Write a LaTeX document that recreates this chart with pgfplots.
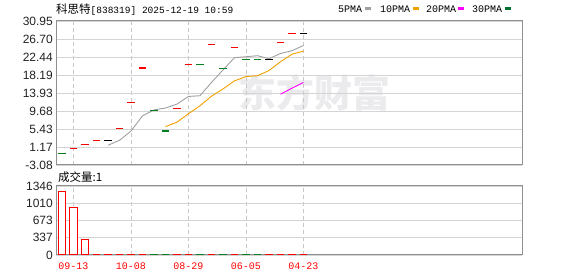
\documentclass[border=0pt]{standalone}
\usepackage{pgfplots}
\pgfplotsset{compat=1.18}
\usepackage{fontspec}
\setmainfont{Liberation Sans}
\newfontfamily\cjk{Noto Sans CJK SC}
\newfontfamily\mono{Liberation Mono}
\definecolor{framec}{HTML}{909090}
\definecolor{gridc}{HTML}{D4D4D4}
\definecolor{vgrid}{HTML}{C8C8C8}
\definecolor{upred}{HTML}{FF0000}
\definecolor{dngreen}{HTML}{00801E}
\definecolor{ma5}{HTML}{A0A0A0}
\definecolor{ma10}{HTML}{F0A000}
\definecolor{ma20}{HTML}{FF00FF}
\definecolor{ma30}{HTML}{007030}
\definecolor{wm}{HTML}{EBEBEE}
\definecolor{lab}{HTML}{222222}
\begin{document}
\begin{tikzpicture}
\useasboundingbox (0bp,0bp) rectangle (578bp,276bp);
% watermark
\node[text=wm, font=\cjk\bfseries\fontsize{38bp}{38bp}\selectfont, inner sep=0pt] at (314bp,183bp) {东方财富};
% title
\node[anchor=west, inner sep=0pt, text=black] at (56bp,266.5bp) {{\cjk\fontsize{11.5bp}{12bp}\selectfont 科思特}{\mono\fontsize{9.5bp}{12bp}\selectfont [838319] 2025-12-19 10:59}};
% legend
\node[anchor=west, inner sep=0pt, font=\mono\fontsize{10bp}{12bp}\selectfont] at (338bp,267bp) {5PMA};
\fill[ma5] (365bp,266bp) rectangle (371bp,269bp);
\node[anchor=west, inner sep=0pt, font=\mono\fontsize{10bp}{12bp}\selectfont] at (380bp,267bp) {10PMA};
\fill[ma10] (413bp,266bp) rectangle (419bp,269bp);
\node[anchor=west, inner sep=0pt, font=\mono\fontsize{10bp}{12bp}\selectfont] at (426bp,267bp) {20PMA};
\fill[ma20] (458bp,266bp) rectangle (464bp,269bp);
\node[anchor=west, inner sep=0pt, font=\mono\fontsize{10bp}{12bp}\selectfont] at (472bp,267bp) {30PMA};
\fill[ma30] (505bp,266bp) rectangle (511bp,269bp);
% volume title
\node[anchor=west, inner sep=0pt, font=\cjk\fontsize{11.5bp}{12bp}\selectfont] at (58bp,99bp) {成交量:1};

\begin{axis}[at={(56bp,111bp)}, anchor=south west, scale only axis,
  width=466bp, height=144bp,
  xmin=0.48, xmax=41, ymin=-3.08, ymax=30.95,
  axis line style={framec, line width=1bp},
  xtick={2,7,12,17,22}, xticklabels={},
  xmajorgrids, x grid style={vgrid, dash pattern=on 4bp off 3bp, line width=0.8bp},
  ytick={-3.08,1.17,5.43,9.68,13.93,18.19,22.44,26.70,30.95},
  yticklabels={\mbox{-3.08},\mbox{1.17},\mbox{5.43},\mbox{9.68},\mbox{13.93},\mbox{18.19},\mbox{22.44},\mbox{26.70},\mbox{30.95}},
  ymajorgrids, y grid style={gridc, line width=0.8bp},
  major tick length=0pt,
  yticklabel style={font=\fontsize{12bp}{12bp}\selectfont, text=lab, inner sep=0pt, xshift=-3bp},
]
\addplot[only marks, mark=-, mark size=3.7bp, upred, mark options={line width=1.2bp}] coordinates {(2,0.87)(3,1.81)(4,2.76)(6,5.59)(7,11.74)(8,19.84)(11,10.32)(12,20.72)(14,25.44)(16,24.74)(20,25.92)(21,28.04)};
\addplot[only marks, mark=-, mark size=3.7bp, dngreen, mark options={line width=1.2bp}] coordinates {(1,-0.31)(9,9.75)(10,4.96)(13,20.72)(15,19.77)(17,21.9)(18,21.9)};
\addplot[only marks, mark=-, mark size=3.7bp, black, mark options={line width=1.2bp}] coordinates {(5,2.76)(19,21.9)(22,28.04)};
\addplot[ma5, line width=0.9bp, no marks] coordinates {(5,1.58)(6,2.76)(7,4.93)(8,8.54)(9,9.94)(10,10.38)(11,11.32)(12,13.12)(13,13.29)(14,16.43)(15,19.39)(16,22.28)(17,22.51)(18,22.75)(19,22.04)(20,23.27)(21,23.93)(22,25.16)};
\addplot[ma10, line width=0.9bp, no marks] coordinates {(10,5.98)(11,7.04)(12,9.03)(13,10.92)(14,13.18)(15,14.89)(16,16.80)(17,17.82)(18,18.02)(19,19.24)(20,21.33)(21,23.11)(22,23.84)};
\addplot[ma20, line width=0.9bp, no marks] coordinates {(20,13.66)(21,15.07)(22,16.43)};
\end{axis}

\begin{axis}[at={(56bp,21bp)}, anchor=south west, scale only axis,
  width=466bp, height=69bp,
  xmin=0.48, xmax=41, ymin=0, ymax=1346,
  axis line style={framec, line width=1bp},
  xtick={2,7,12,17,22}, xticklabels={09-13,10-08,08-29,06-05,04-23},
  xticklabel style={font=\mono\fontsize{10bp}{12bp}\selectfont, text=upred, anchor=center, inner sep=0pt, yshift=-11bp},
  xmajorgrids, x grid style={vgrid, dash pattern=on 4bp off 3bp, line width=0.8bp},
  ytick={0,337,673,1010,1346},
  yticklabels={\mbox{0},\mbox{337},\mbox{673},\mbox{1010},\mbox{1346}},
  ymajorgrids, y grid style={gridc, line width=0.8bp},
  major tick length=0pt,
  yticklabel style={font=\fontsize{12bp}{12bp}\selectfont, text=lab, inner sep=0pt, xshift=-3bp},
]
\addplot[ybar, bar width=7.3bp, draw=upred, fill=white, line width=1bp] coordinates {(1,1243)(2,930)(3,306)};
\addplot[only marks, mark=-, mark size=3.7bp, upred, mark options={line width=1.3bp}] coordinates {(4,14)(5,14)(6,14)(7,14)(8,14)(11,14)(12,14)(14,14)(16,14)(19,14)(20,14)(21,14)(22,14)};
\addplot[only marks, mark=-, mark size=3.7bp, dngreen, mark options={line width=1.3bp}] coordinates {(9,14)(10,14)(13,14)(15,14)(17,14)(18,14)};
\end{axis}
\end{tikzpicture}
\end{document}
